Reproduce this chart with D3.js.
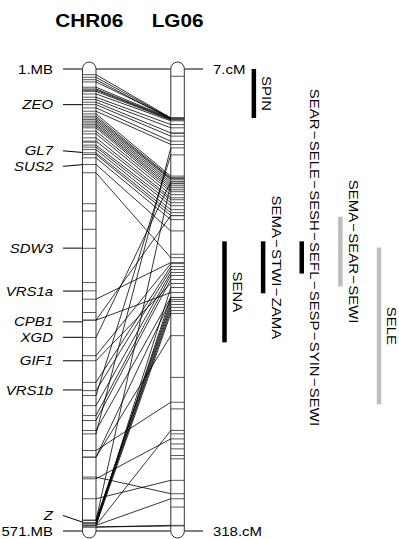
<!DOCTYPE html>
<html>
<head>
<meta charset="utf-8">
<script src="https://cdn.jsdelivr.net/npm/d3@7"></script>
<style>
  body { margin: 0; background: #fff; }
  svg { display: block; }
  text { font-family: "Liberation Sans", Arial, sans-serif; fill: #000; }
</style>
</head>
<body>
<div id="chart"></div>
<script>
// chromosome names and end points
const chrName = 'CHR06';
const lgName = 'LG06';
const physRange = [1, 571];   // Mb
const genRange = [7, 318];    // cM
const physEndLabels = ['1.MB', '571.MB'];
const genEndLabels = ['7.cM', '318.cM'];

// genes marked on the physical chromosome
const geneNames = ['ZEO', 'GL7', 'SUS2', 'SDW3', 'VRS1a', 'CPB1', 'XGD', 'GIF1', 'VRS1b', 'Z'];
const geneMb = [45, 104, 119, 222, 275, 313, 332, 361, 397, 560];

// markers placed on both maps (Mb -> cM)
const linkMb = [
  8.0, 11.2, 14.2, 17.0, 23.5, 25.6, 26.9, 28.5, 31.8, 35.8, 38.8, 42.0, 45.0, 49.0, 53.1,
  56.4, 59.2, 61.3, 63.4, 65.4, 67.5, 69.6, 71.5, 73.6, 77.7, 81.0, 85.9, 90.0, 94.9, 97.4,
  100.4, 104.4, 106.5, 110.6, 118.8, 129.0,
  285.0, 451.2, 403.9, 310.9, 310.9, 354.7, 360.9, 332.2, 557.8,
  387.6, 397.8, 416.3, 428.6, 434.7, 447.0, 471.7, 479.9, 504.5, 506.6, 531.2,
  557.8, 557.8, 561.2, 561.2, 564.0, 564.0, 561.2, 564.0, 564.0, 566.1, 566.1, 479.9
];
const linkCm = [
  39.9, 40.2, 40.6, 39.9, 40.2, 40.6, 40.9, 41.3, 41.9, 44.4, 46.6, 50.0, 52.2, 55.6, 57.8,
  79.1, 80.2, 80.9, 81.6, 82.9, 84.2, 85.6, 86.9, 88.3, 89.6, 91.6, 93.7, 95.0, 97.0, 99.0,
  101.7, 103.7, 105.7, 108.4, 116.0, 134.0,
  137.3, 60.1, 64.8, 105.7, 157.5, 138.0, 151.4, 82.9, 84.2,
  140.0, 142.0, 144.0, 146.0, 148.7, 160.8, 231.3, 162.2, 292.9, 256.0, 283.9,
  163.5, 165.5, 167.5, 169.6, 171.6, 154.1, 160.8, 250.3, 296.3, 314.2, 314.6, 186.5
];

// markers seen on only one of the maps
const physOnlyMb = [167.2, 176.2, 198.8, 222.2, 264.5, 274.7, 301.4, 91.3, 28.0];
const genOnlyCm = [11.9, 131.7, 214.6, 235.8, 252.6, 259.4, 262.7, 267.2, 269.4, 301.9, 50.4, 80.5];

// QTL intervals on the genetic map
const qtlNames = ['SPIN', 'SENA', 'SEMA−STWI−ZAMA', 'SEAR−SELE−SESH−SEFL−SESP−SYIN−SEWI', 'SEMA−SEAR−SEWI', 'SELE'];
const qtlStart = [7, 123, 123, 123, 106.4, 127.2];
const qtlEnd = [40, 191, 158, 144.7, 153.4, 232.7];
const qtlGrey = [false, false, false, false, true, true];
const qtlLane = [0.76, 0, 1, 2, 3, 4];

const width = 399, height = 539;
const svg = d3.select('#chart').append('svg')
  .attr('width', width)
  .attr('height', height);

const yMb = d3.scaleLinear().domain(physRange).range([69, 531]);
const yCm = d3.scaleLinear().domain(genRange).range([69, 531]);

const chrW = 13.5;
const leftX = 82.5;
const rightX = 170.8;
const stretch = 1.15;

// titles
svg.append('text')
  .attr('transform', `translate(${leftX + chrW / 2},27) scale(1.12,1)`)
  .attr('text-anchor', 'middle')
  .style('font-size', '18.5px')
  .style('font-weight', 'bold')
  .text(chrName);
svg.append('text')
  .attr('transform', `translate(${rightX + chrW / 2},27) scale(1.12,1)`)
  .attr('text-anchor', 'middle')
  .style('font-size', '18.5px')
  .style('font-weight', 'bold')
  .text(lgName);

// end lines across both maps
[0, 1].forEach(i => {
  const y = yMb(physRange[i]);
  svg.append('line')
    .attr('x1', 63).attr('x2', 203)
    .attr('y1', y).attr('y2', y)
    .attr('stroke', '#000').attr('stroke-width', 1);
  svg.append('text')
    .attr('transform', `translate(53,${y}) scale(${stretch},1)`)
    .attr('dy', '0.35em')
    .attr('text-anchor', 'end')
    .style('font-size', '13px')
    .text(physEndLabels[i]);
  svg.append('text')
    .attr('transform', `translate(213,${yCm(genRange[i])}) scale(${stretch},1)`)
    .attr('dy', '0.35em')
    .style('font-size', '13px')
    .text(genEndLabels[i]);
});

// chromosome bodies
[leftX, rightX].forEach(x => {
  svg.append('rect')
    .attr('x', x).attr('y', 62)
    .attr('width', chrW).attr('height', 476)
    .attr('rx', chrW / 2).attr('ry', chrW / 2)
    .attr('fill', '#fff')
    .attr('stroke', '#333')
    .attr('stroke-width', 1);
});

// bands
const leftBands = linkMb.concat(physOnlyMb);
const rightBands = linkCm.concat(genOnlyCm);
svg.append('g').selectAll('line')
  .data(leftBands)
  .join('line')
  .attr('x1', leftX).attr('x2', leftX + chrW)
  .attr('y1', d => yMb(d)).attr('y2', d => yMb(d))
  .attr('stroke', '#444').attr('stroke-width', 0.9);
svg.append('g').selectAll('line')
  .data(rightBands)
  .join('line')
  .attr('x1', rightX).attr('x2', rightX + chrW)
  .attr('y1', d => yCm(d)).attr('y2', d => yCm(d))
  .attr('stroke', '#444').attr('stroke-width', 0.9);

// links between the maps
svg.append('g').selectAll('line')
  .data(d3.range(linkMb.length))
  .join('line')
  .attr('x1', leftX + chrW).attr('x2', rightX)
  .attr('y1', i => yMb(linkMb[i]))
  .attr('y2', i => yCm(linkCm[i]))
  .attr('stroke', '#000').attr('stroke-width', 0.8);

// gene labels, spread so they do not collide
const genes = geneNames.map((name, i) => ({ name, y0: yMb(geneMb[i]), y: yMb(geneMb[i]) }));
const gap = 15.5;
const yTop = yMb(physRange[0]) + gap, yBottom = yMb(physRange[1]) - gap;
for (let k = 0; k < 100; k++) {
  for (let i = 1; i < genes.length; i++) {
    const d = genes[i].y - genes[i - 1].y;
    if (d < gap) {
      const s = (gap - d) / 2;
      genes[i - 1].y -= s;
      genes[i].y += s;
    }
  }
  genes.forEach(g => { g.y = Math.max(yTop, Math.min(yBottom, g.y)); });
}

const geneG = svg.append('g');
geneG.selectAll('line')
  .data(genes)
  .join('line')
  .attr('x1', 63).attr('x2', leftX)
  .attr('y1', d => d.y).attr('y2', d => d.y0)
  .attr('stroke', '#000').attr('stroke-width', 1);
geneG.selectAll('text')
  .data(genes)
  .join('text')
  .attr('transform', d => `translate(53,${d.y}) scale(${stretch},1)`)
  .attr('dy', '0.35em')
  .attr('text-anchor', 'end')
  .style('font-size', '13px')
  .style('font-style', 'italic')
  .text(d => d.name);

// QTL bars with rotated labels
const laneX = d3.scaleLinear().domain([0, 4]).range([224.5, 379]);
const qtlG = svg.append('g');
qtlNames.forEach((name, i) => {
  const x = laneX(qtlLane[i]);
  const y1 = yCm(qtlStart[i]), y2 = yCm(qtlEnd[i]);
  const col = qtlGrey[i] ? '#bebebe' : '#000';
  qtlG.append('rect')
    .attr('x', x - 2.25).attr('y', y1)
    .attr('width', 4.5).attr('height', y2 - y1)
    .attr('fill', col);
  qtlG.append('text')
    .attr('transform', `translate(${x + 13},${(y1 + y2) / 2}) rotate(90) scale(${stretch},1)`)
    .attr('dy', '0.35em')
    .attr('text-anchor', 'middle')
    .style('font-size', '13px')
    .text(name.replace(/−/g, '\u200A−\u200A'));
});
</script>
</body>
</html>
